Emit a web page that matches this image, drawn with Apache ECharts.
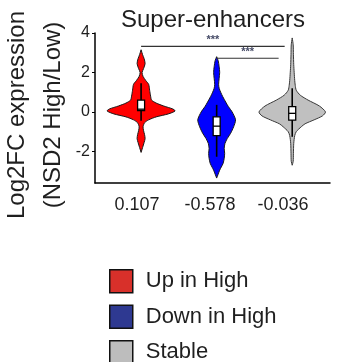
<!DOCTYPE html>
<html>
<head>
<meta charset="utf-8">
<script src="https://cdn.jsdelivr.net/npm/echarts@6/dist/echarts.min.js"></script>
<style>
html,body{margin:0;padding:0;background:#fff;}
#c{width:337px;height:362px;}
</style>
</head>
<body>
<div id="c"></div>
<script>
// ---- data ----
var groups = ['Up in High', 'Down in High', 'Stable'];
var xLabels = ['0.107', '-0.578', '-0.036'];
var yTicks = [-2, 0, 2, 4];

// violin profiles: [log2FC value, half width in category units]
var redProfile = [[3.15,0],[2.9,0.02],[2.7,0.04],[2.45,0.053],[2.2,0.033],[2.0,0.013],[1.8,0.026],[1.6,0.06],[1.4,0.1],[1.1,0.113],[0.8,0.126],[0.6,0.139],[0.45,0.2],[0.3,0.3],[0.15,0.42],[0.05,0.45],[-0.1,0.36],[-0.25,0.2],[-0.4,0.1],[-0.55,0.046],[-0.75,0.026],[-0.95,0.033],[-1.15,0.046],[-1.35,0.053],[-1.55,0.04],[-1.8,0.02],[-2.05,0]];
var blueProfile = [[2.8,0],[2.6,0.02],[2.3,0.033],[2.0,0.04],[1.7,0.033],[1.4,0.026],[1.2,0.033],[1.0,0.053],[0.78,0.08],[0.5,0.12],[0.27,0.155],[0.0,0.205],[-0.4,0.25],[-0.75,0.225],[-1.08,0.185],[-1.35,0.14],[-1.6,0.11],[-1.85,0.1],[-2.1,0.106],[-2.35,0.1],[-2.6,0.086],[-2.8,0.06],[-2.95,0.04],[-3.15,0.02],[-3.35,0]];
var grayProfile = [[3.75,0],[3.4,0.013],[2.9,0.016],[2.4,0.02],[2.0,0.026],[1.6,0.033],[1.35,0.04],[1.1,0.053],[0.85,0.106],[0.6,0.21],[0.3,0.36],[0.0,0.44],[-0.2,0.4],[-0.4,0.29],[-0.6,0.17],[-0.75,0.12],[-1.0,0.053],[-1.2,0.033],[-1.6,0.02],[-2.1,0.016],[-2.5,0.013],[-2.7,0]];

// box stats: [whiskerLow, q1, median, q3, whiskerHigh]
var redBox = [-0.45, 0.07, 0.14, 0.6, 1.45];
var blueBox = [-2.27, -1.2, -0.72, -0.25, 0.36];
var grayBox = [-1.26, -0.41, -0.07, 0.27, 1.2];

// significance brackets
var sigFrom = [0, 1];
var sigTo = [1.9, 1.82];
var sigY = [3.32, 2.72];
var sigText = ['***', '***'];

// ---- styles ----
var violinColors = ['#ff0000', '#0000ff', '#c0c0c0'];
var legendColors = ['#d8302a', '#2e3991', '#bdbdbd'];
var profiles = [redProfile, blueProfile, grayProfile];
var boxes = [redBox, blueBox, grayBox];
var FONT = 'Liberation Sans, Arial, Helvetica, sans-serif';
var TXT = '#1f1f1f';

var chart = echarts.init(document.getElementById('c'), null, {renderer: 'canvas'});

function violinRender(params, api) {
  var gi = params.seriesIndex;
  var idx = api.value(0);
  var prof = profiles[gi];
  var pts = [];
  for (var i = 0; i < prof.length; i++) pts.push(api.coord([idx + prof[i][1], prof[i][0]]));
  for (var j = prof.length - 1; j >= 0; j--) pts.push(api.coord([idx - prof[j][1], prof[j][0]]));
  var b = boxes[gi];
  var cx = api.coord([idx, 0])[0];
  var bw = 7;
  var yLo = api.coord([idx, b[0]])[1], yQ1 = api.coord([idx, b[1]])[1], yMed = api.coord([idx, b[2]])[1], yQ3 = api.coord([idx, b[3]])[1], yHi = api.coord([idx, b[4]])[1];
  return {
    type: 'group',
    children: [
      {type: 'polygon', shape: {points: pts, smooth: 0.25}, style: {fill: violinColors[gi], stroke: gi === 2 ? '#3a3a3a' : '#1a1a1a', lineWidth: 1}},
      {type: 'line', shape: {x1: cx, y1: yHi, x2: cx, y2: yLo}, style: {stroke: '#000', lineWidth: 1.6}},
      {type: 'rect', shape: {x: cx - bw / 2, y: yQ3, width: bw, height: yQ1 - yQ3}, style: {fill: '#fff', stroke: '#000', lineWidth: 1.3}},
      {type: 'line', shape: {x1: cx - bw / 2, y1: yMed, x2: cx + bw / 2, y2: yMed}, style: {stroke: '#000', lineWidth: 1.3}}
    ]
  };
}

function sigRender(params, api) {
  var i = params.dataIndex;
  var p1 = api.coord([api.value(0), api.value(2)]);
  var p2 = api.coord([api.value(1), api.value(2)]);
  return {
    type: 'group',
    children: [
      {type: 'line', shape: {x1: p1[0], y1: p1[1], x2: p2[0], y2: p2[1]}, style: {stroke: '#333', lineWidth: 1.2}},
      {type: 'text', x: (p1[0] + p2[0]) / 2, y: p1[1] - 1, style: {text: sigText[i], fill: '#454a66', font: 'bold 11px ' + FONT, align: 'center', verticalAlign: 'bottom'}}
    ]
  };
}

var series = [];
for (var g = 0; g < groups.length; g++) {
  series.push({
    name: groups[g], type: 'custom', xAxisIndex: 0, yAxisIndex: 0,
    itemStyle: {color: violinColors[g]},
    renderItem: violinRender, data: [[g, 0]], silent: true, clip: false
  });
}
var sigData = [];
for (var s = 0; s < sigFrom.length; s++) sigData.push([sigFrom[s], sigTo[s], sigY[s]]);
series.push({name: 'sig', type: 'custom', xAxisIndex: 0, yAxisIndex: 0, renderItem: sigRender, data: sigData, silent: true, clip: false});

var legendData = groups.map(function (n, i) {
  return {name: n, itemStyle: {color: legendColors[i], borderColor: '#111', borderWidth: 1.5}};
});

chart.setOption({
  animation: false,
  backgroundColor: '#fff',
  grid: [
    {left: 95, top: 33, width: 235, height: 150},
    {left: 100.5, top: 33, width: 219, height: 150}
  ],
  xAxis: [
    {gridIndex: 0, type: 'value', min: -0.61, max: 2.5, axisLine: {show: true, onZero: false, lineStyle: {color: '#000', width: 1.5}}, axisTick: {show: false}, axisLabel: {show: false}, splitLine: {show: false}},
    {gridIndex: 1, type: 'category', data: xLabels, axisLine: {show: false}, axisTick: {show: false}, splitLine: {show: false},
      axisLabel: {fontSize: 18, color: TXT, fontFamily: FONT, margin: 13}}
  ],
  yAxis: [
    {gridIndex: 0, type: 'value', min: -3.6, max: 4, axisLine: {show: true, onZero: false, lineStyle: {color: '#000', width: 1.5}},
      axisTick: {show: true, length: 3, customValues: yTicks, lineStyle: {color: '#000'}},
      axisLabel: {customValues: yTicks, fontSize: 16, color: TXT, fontFamily: FONT, margin: 5},
      splitLine: {show: false}},
    {gridIndex: 1, type: 'value', show: false}
  ],
  legend: {
    orient: 'vertical', left: 109, top: 269, height: 200, padding: 0, itemWidth: 23, itemHeight: 23, itemGap: 11, icon: 'rect',
    data: legendData, selectedMode: false,
    textStyle: {fontSize: 22, lineHeight: 23, color: TXT, fontFamily: FONT, padding: [0, 0, 0, 8]}
  },
  graphic: [
    {type: 'text', x: 213, y: 20, style: {text: 'Super-enhancers', font: '24px ' + FONT, fill: TXT, align: 'center', verticalAlign: 'middle'}},
    {type: 'text', x: 17, y: 115, rotation: Math.PI / 2, style: {text: 'Log2FC expression', font: '24px ' + FONT, fill: TXT, align: 'center', verticalAlign: 'middle'}},
    {type: 'text', x: 53, y: 115, rotation: Math.PI / 2, style: {text: '(NSD2 High/Low)', font: '24px ' + FONT, fill: TXT, align: 'center', verticalAlign: 'middle'}}
  ],
  series: series
});
</script>
</body>
</html>
